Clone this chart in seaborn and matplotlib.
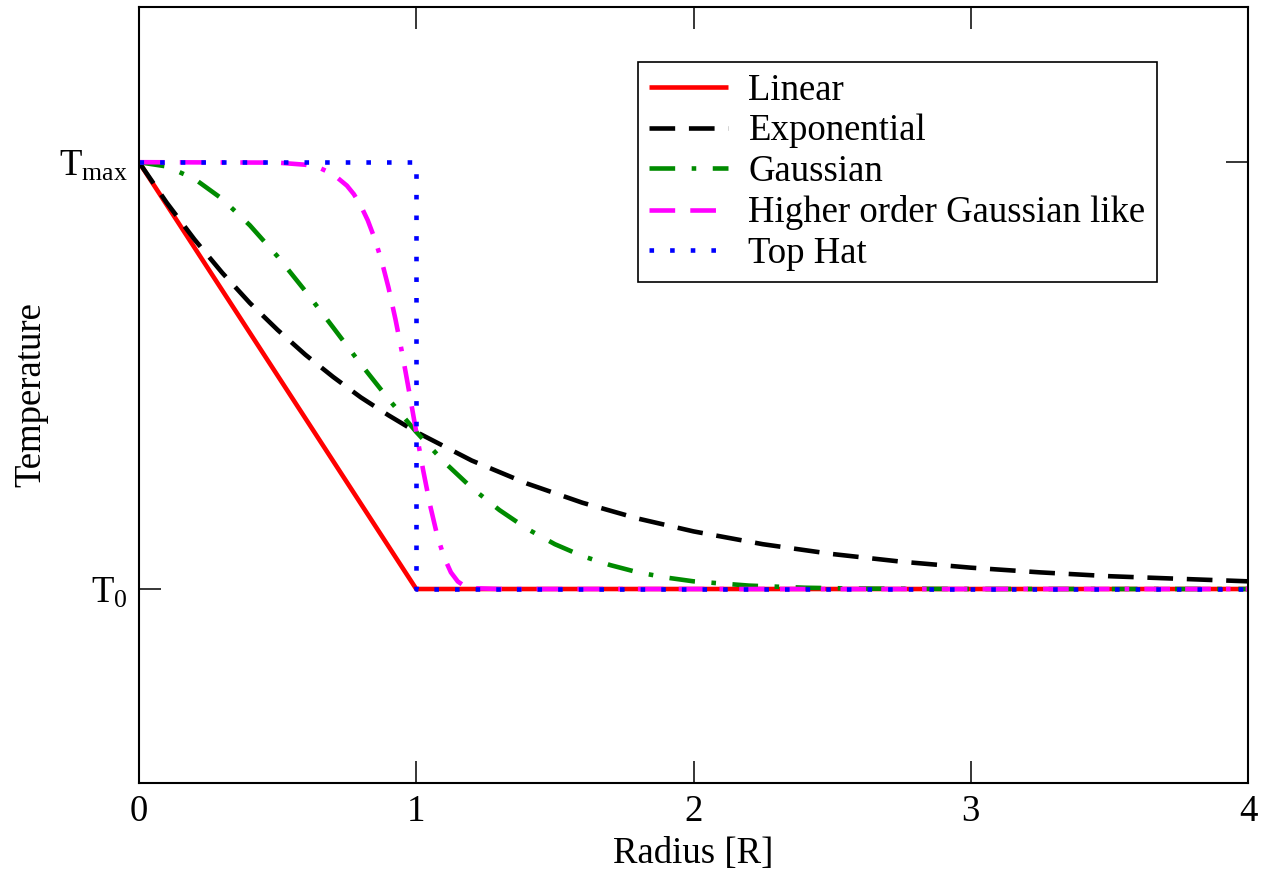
import matplotlib
matplotlib.use("Agg")
import matplotlib.pyplot as plt
import pandas as pd
import seaborn as sns

# Radial temperature profiles, normalised so that T0 -> 0 and Tmax -> 1
linear_r = [0.0, 1.0, 4.0]
linear_t = [1.0, 0.0, 0.0]

exp_r = [0.0, 0.1, 0.2, 0.3, 0.4, 0.5, 0.6, 0.7, 0.8, 0.9, 1.0, 1.2, 1.4, 1.6,
         1.8, 2.0, 2.25, 2.5, 2.75, 3.0, 3.25, 3.5, 3.75, 4.0]
exp_t = [1.0, 0.905, 0.819, 0.741, 0.670, 0.607, 0.549, 0.497, 0.449, 0.407,
         0.368, 0.301, 0.247, 0.202, 0.165, 0.135, 0.105, 0.082, 0.064, 0.050,
         0.039, 0.030, 0.024, 0.018]

gauss_r = [0.0, 0.1, 0.2, 0.3, 0.4, 0.5, 0.6, 0.7, 0.8, 0.9, 1.0, 1.1, 1.2, 1.3,
           1.4, 1.5, 1.6, 1.7, 1.8, 1.9, 2.0, 2.2, 2.4, 2.6, 3.0, 4.0]
gauss_t = [1.0, 0.990, 0.961, 0.914, 0.852, 0.779, 0.698, 0.613, 0.527, 0.445,
           0.368, 0.298, 0.237, 0.185, 0.141, 0.105, 0.077, 0.056, 0.039, 0.027,
           0.018, 0.008, 0.003, 0.001, 0.0, 0.0]

higher_r = [0.0, 0.5, 0.6, 0.65, 0.7, 0.75, 0.775, 0.8, 0.825, 0.85, 0.875, 0.9,
            0.925, 0.95, 0.975, 1.0, 1.025, 1.05, 1.075, 1.1, 1.125, 1.15,
            1.175, 1.2, 1.3, 4.0]
higher_t = [1.0, 0.999, 0.994, 0.987, 0.972, 0.945, 0.925, 0.898, 0.864, 0.821,
            0.769, 0.706, 0.632, 0.550, 0.460, 0.368, 0.278, 0.196, 0.127,
            0.075, 0.039, 0.0175, 0.0066, 0.002, 0.0, 0.0]

tophat_r = [0.0, 1.0, 1.0, 4.0]
tophat_t = [1.0, 1.0, 0.0, 0.0]

series_names = ["Linear", "Exponential", "Gaussian",
                "Higher order Gaussian like", "Top Hat"]
x_ticks = [0, 1, 2, 3, 4]
y_ticks = [0.0, 1.0]
y_tick_labels = [r"$\mathrm{T_{0}}$", r"$\mathrm{T_{max}}$"]

sns.set_style("ticks")
plt.rcParams["font.family"] = ["Liberation Serif", "DejaVu Serif"]
plt.rcParams["mathtext.fontset"] = "custom"
plt.rcParams["mathtext.rm"] = "Liberation Serif"
plt.rcParams["mathtext.it"] = "Liberation Serif:italic"
plt.rcParams["lines.solid_capstyle"] = "butt"
plt.rcParams["lines.dash_capstyle"] = "butt"
for key in ["text.color", "axes.labelcolor", "xtick.color", "ytick.color",
            "axes.edgecolor", "xtick.labelcolor", "ytick.labelcolor"]:
    plt.rcParams[key] = "black"

fig, ax = plt.subplots(figsize=(12.72, 8.71), dpi=100)
fig.subplots_adjust(left=139 / 1272, right=1248 / 1272,
                    bottom=1 - 783 / 871, top=1 - 7 / 871)

profiles = [
    (linear_r, linear_t, "#ff0000", "-"),
    (exp_r, exp_t, "#000000", (0, (5.6, 3.0))),
    (gauss_r, gauss_t, "#008b00", (0, (5.6, 3.6, 1.0, 3.6))),
    (higher_r, higher_t, "#ff00ff", (0, (5.6, 3.3, 5.6, 3.3, 1.0, 3.3))),
    (tophat_r, tophat_t, "#0000ff", (0, (1.0, 3.5))),
]

lw = 3.3
for name, (r, t, color, ls) in zip(series_names, profiles):
    df = pd.DataFrame({"r": r, "t": t})
    sns.lineplot(data=df, x="r", y="t", ax=ax, color=color, linestyle=ls,
                 linewidth=lw, sort=False, estimator=None, label=name)

ax.set_xlim(0, 4)
ax.set_ylim(-0.4545, 1.3636)
ax.set_xticks(x_ticks)
ax.set_xticklabels([str(v) for v in x_ticks])
ax.set_yticks(y_ticks)
ax.set_yticklabels(y_tick_labels)

ax.tick_params(axis="both", which="major", direction="in", length=16,
               width=1.1, top=True, right=True, labelsize=26.5, pad=8,
               colors="black")
for side in ax.spines.values():
    side.set_linewidth(1.5)
    side.set_color("black")

ax.set_xlabel("Radius [R]", fontsize=26.5, labelpad=6, color="black")
ax.set_ylabel("Temperature", fontsize=26.5, labelpad=8, color="black")

leg = ax.legend(loc="upper left", bbox_to_anchor=(0.45, 0.929),
                fontsize=26.5, frameon=True, fancybox=False, shadow=False,
                framealpha=1.0, edgecolor="black", borderpad=0.3,
                labelspacing=0.17, handlelength=2.15, handletextpad=0.55,
                borderaxespad=0.0)
leg.get_frame().set_linewidth(1.2)
for txt in leg.get_texts():
    txt.set_color("black")

fig.savefig("out.png", dpi=100)
